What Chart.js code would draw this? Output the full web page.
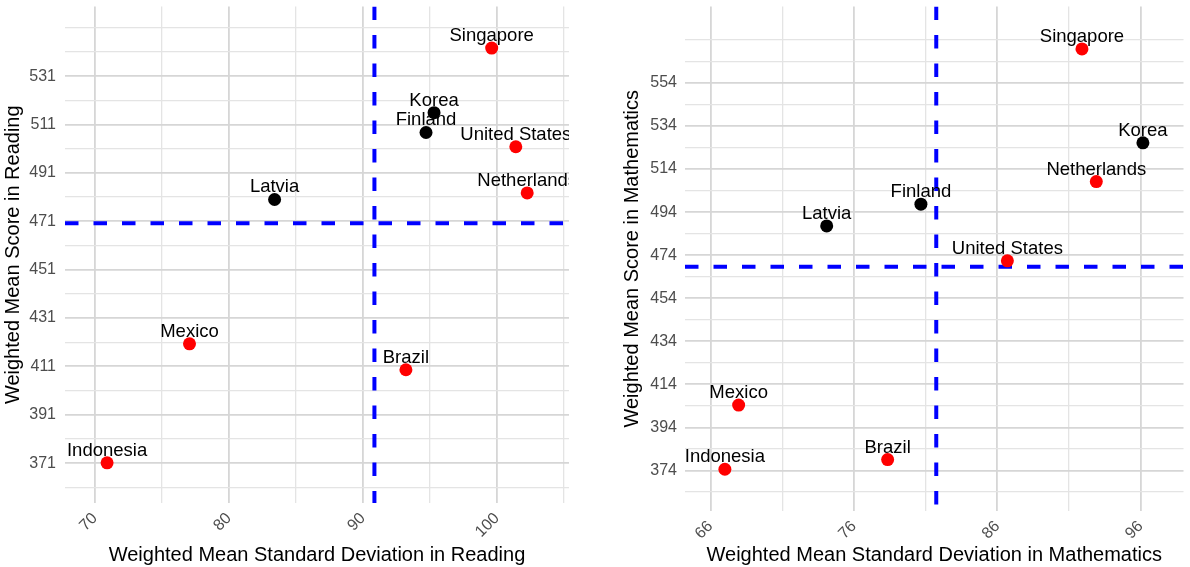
<!DOCTYPE html>
<html>
<head>
<meta charset="utf-8">
<script src="https://cdn.jsdelivr.net/npm/chart.js@4/dist/chart.umd.min.js"></script>
<style>
  body { margin: 0; background: #fff; }
  #left { position: absolute; left: 0; top: 0; }
  #right { position: absolute; left: 600px; top: 0; }
</style>
</head>
<body>
<canvas id="left" width="600" height="567"></canvas>
<canvas id="right" width="590" height="567"></canvas>
<script>
// countries and their values
const countries = ["Singapore", "Korea", "Finland", "United States", "Netherlands", "Latvia", "Mexico", "Brazil", "Indonesia"];
const pointColors = ["#ff0000", "#000000", "#000000", "#ff0000", "#ff0000", "#000000", "#ff0000", "#ff0000", "#ff0000"];

const readingSD = [99.6, 95.3, 94.7, 101.4, 102.25, 83.4, 77.05, 93.2, 70.9];
const readingScore = [542.6, 515.9, 507.7, 501.8, 482.7, 480.0, 420.3, 409.6, 371.1];
const readingCutSD = 90.85;
const readingCutScore = 470.2;

const mathSD = [91.9, 96.15, 80.67, 86.7, 92.9, 74.1, 67.96, 78.35, 67.0];
const mathScore = [569.8, 526.2, 497.7, 471.4, 508.2, 487.6, 404.4, 379.1, 374.6];
const mathCutSD = 81.74;
const mathCutScore = 468.6;

// tick labels
const readingXTicks = [70, 80, 90, 100];
const readingYTicks = [371, 391, 411, 431, 451, 471, 491, 511, 531];
const mathXTicks = [66, 76, 86, 96];
const mathYTicks = [374, 394, 414, 434, 454, 474, 494, 514, 534, 554];

const FONT = '"Liberation Sans", Arial, Helvetica, sans-serif';

const labelPlugin = {
  id: "pointLabels",
  afterDatasetsDraw(chart, args, opts) {
    const { ctx, chartArea: a } = chart;
    const xs = chart.scales.x, ys = chart.scales.y;
    ctx.save();
    ctx.beginPath();
    ctx.rect(a.left, a.top, a.right - a.left, a.bottom - a.top);
    ctx.clip();
    ctx.font = "18.5px " + FONT;
    ctx.fillStyle = "#000";
    ctx.textAlign = "center";
    ctx.textBaseline = "alphabetic";
    opts.names.forEach((n, i) => {
      ctx.fillText(n, xs.getPixelForValue(opts.xs[i]), ys.getPixelForValue(opts.ys[i]) - 7);
    });
    ctx.restore();
  }
};

// major breaks plus the midpoints between them, one step past the labelled ones
function gridVals(ticks, min, max) {
  const half = (ticks[1] - ticks[0]) / 2;
  const out = [];
  const lo = ticks[0] - 2 * half, hi = ticks[ticks.length - 1] + 2 * half;
  for (let v = lo; v <= hi + 1e-9; v += half) if (v >= min - 1e-9 && v <= max + 1e-9) out.push(Math.round(v * 100) / 100);
  return out;
}

function makeChart(id, cfg) {
  const xGrid = gridVals(cfg.xTicks, cfg.xMin, cfg.xMax);
  const yGrid = gridVals(cfg.yTicks, cfg.yMin, cfg.yMax);
  const gridColor = (ticks) => (c) => ticks.includes(c.tick.value) ? "#d6d6d6" : "#e4e4e4";
  const gridWidth = (ticks) => (c) => ticks.includes(c.tick.value) ? 1.8 : 1.3;

  return new Chart(document.getElementById(id), {
    type: "scatter",
    data: {
      datasets: [
        {
          data: cfg.xs.map((v, i) => ({ x: v, y: cfg.ys[i] })),
          pointBackgroundColor: cfg.colors,
          pointBorderWidth: 0,
          pointRadius: 6.5,
          order: 0
        },
        {
          data: [{ x: cfg.cutX, y: cfg.yMax }, { x: cfg.cutX, y: cfg.yMin }],
          showLine: true,
          borderColor: "#0000ff",
          borderWidth: 4,
          borderDash: [13.5, 15],
          pointRadius: 0,
          order: 1
        },
        {
          data: [{ x: cfg.xMin, y: cfg.cutY }, { x: cfg.xMax, y: cfg.cutY }],
          showLine: true,
          borderColor: "#0000ff",
          borderWidth: 4,
          borderDash: [13.5, 15],
          pointRadius: 0,
          order: 1
        }
      ]
    },
    options: {
      responsive: false,
      animation: false,
      layout: { padding: { top: 3, right: cfg.padRight, left: 0, bottom: 0 } },
      plugins: {
        legend: { display: false },
        tooltip: { enabled: false },
        pointLabels: { names: countries, xs: cfg.xs, ys: cfg.ys }
      },
      scales: {
        x: {
          type: "linear",
          min: cfg.xMin,
          max: cfg.xMax,
          afterBuildTicks: (s) => { s.ticks = xGrid.map((v) => ({ value: v })); },
          afterFit: (s) => { s.height = cfg.xAxisHeight; s.paddingLeft = 0; s.paddingRight = 0; },
          border: { display: false },
          grid: { drawTicks: false, color: gridColor(cfg.xTicks), lineWidth: gridWidth(cfg.xTicks) },
          ticks: {
            autoSkip: false,
            minRotation: 45,
            maxRotation: 45,
            padding: 6,
            color: "#4d4d4d",
            font: { size: 16, family: FONT },
            callback: (v) => cfg.xTicks.includes(v) ? String(v) : ""
          },
          title: {
            display: true,
            text: cfg.xTitle,
            color: "#000",
            font: { size: 20, family: FONT },
            padding: { top: 0, bottom: 0 }
          }
        },
        y: {
          type: "linear",
          min: cfg.yMin,
          max: cfg.yMax,
          afterBuildTicks: (s) => { s.ticks = yGrid.map((v) => ({ value: v })); },
          afterFit: (s) => { s.width = cfg.yAxisWidth; s.paddingTop = 0; s.paddingBottom = 0; },
          border: { display: false },
          grid: { drawTicks: false, color: gridColor(cfg.yTicks), lineWidth: gridWidth(cfg.yTicks) },
          ticks: {
            autoSkip: false,
            padding: cfg.yTickPad,
            color: "#4d4d4d",
            font: { size: 16, family: FONT },
            callback: (v) => cfg.yTicks.includes(v) ? String(v) : ""
          },
          title: {
            display: true,
            text: cfg.yTitle,
            color: "#000",
            font: { size: 20, family: FONT },
            padding: { top: cfg.yTitlePad, bottom: 0 }
          }
        }
      }
    },
    plugins: [labelPlugin]
  });
}

makeChart("left", {
  xs: readingSD, ys: readingScore, colors: pointColors,
  cutX: readingCutSD, cutY: readingCutScore,
  xTicks: readingXTicks, yTicks: readingYTicks,
  xMin: 67.76, xMax: 105.37, yMin: 354.5, yMax: 559.8,
  xAxisHeight: 64, yAxisWidth: 65, padRight: 31, yTickPad: 9, yTitlePad: 1,
  xTitle: "Weighted Mean Standard Deviation in Reading",
  yTitle: "Weighted Mean Score in Reading"
});

makeChart("right", {
  xs: mathSD, ys: mathScore, colors: pointColors,
  cutX: mathCutSD, cutY: mathCutScore,
  xTicks: mathXTicks, yTicks: mathYTicks,
  xMin: 64.22, xMax: 98.98, yMin: 355.2, yMax: 589.5,
  xAxisHeight: 56, yAxisWidth: 85, padRight: 0, yTickPad: 8, yTitlePad: 20,
  xTitle: "Weighted Mean Standard Deviation in Mathematics",
  yTitle: "Weighted Mean Score in Mathematics"
});
</script>
</body>
</html>
